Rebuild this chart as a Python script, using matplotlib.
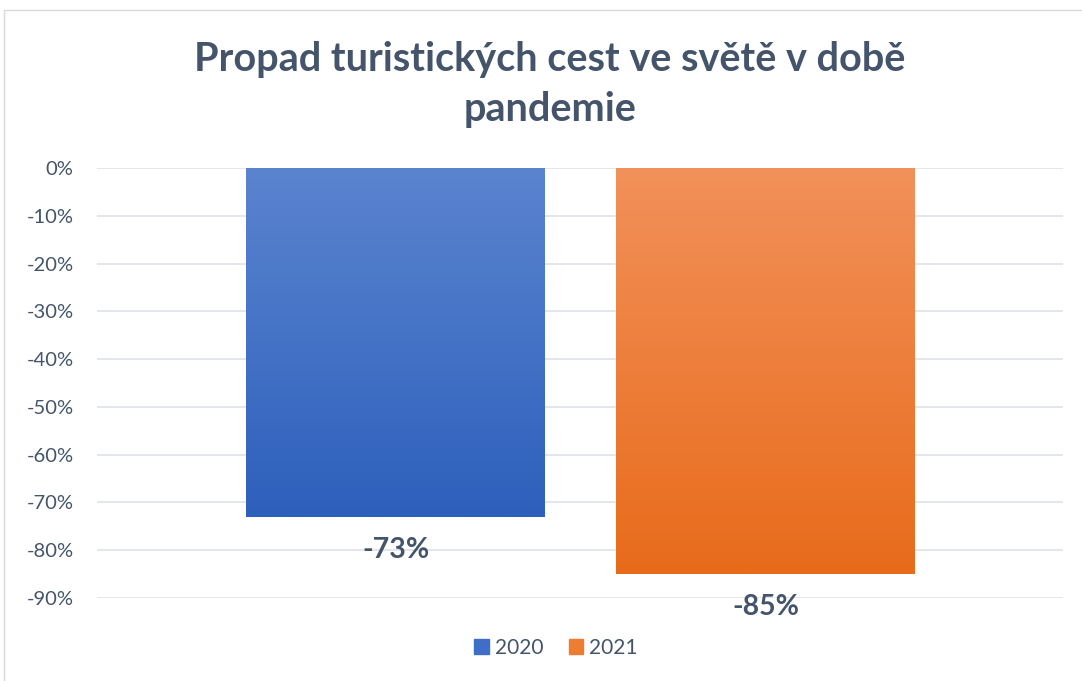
import numpy as np
import matplotlib.pyplot as plt
from matplotlib.patches import Rectangle
from matplotlib.colors import LinearSegmentedColormap

# data
series = ["2020", "2021"]
values = [-0.73, -0.85]
labels = ["-73%", "-85%"]
ticks = [0, -0.1, -0.2, -0.3, -0.4, -0.5, -0.6, -0.7, -0.8, -0.9]

# gradient colours (top -> bottom)
grads = [("#5B84CF", "#2D60BC"), ("#F2915A", "#E86B1B")]
solid = ["#3F6EC6", "#ED7D31"]

text_col = "#44546A"
plt.rcParams['font.family'] = ['Lato', 'DejaVu Sans']

fig = plt.figure(figsize=(10.82, 6.81), dpi=100)
ax = fig.add_axes([97 / 1082, 1 - 598 / 681, (1063 - 97) / 1082, (598 - 168) / 681])

# frame around the chart
fig.patches.append(Rectangle((4 / 1082, -0.1), 1.2, 1.1 - 10 / 681, transform=fig.transFigure,
                             fill=False, edgecolor="#D9D9D9", linewidth=1.0))

width = 0.808
x = np.arange(len(series))
for i, v in enumerate(values):
    cmap = LinearSegmentedColormap.from_list("g%d" % i, grads[i])
    grad = np.linspace(0, 1, 256).reshape(-1, 1)
    ax.imshow(grad, cmap=cmap, aspect='auto', extent=(x[i] - width / 2, x[i] + width / 2, v, 0),
              zorder=3, interpolation='bilinear')
    ax.annotate(labels[i], (x[i], v), xytext=(0, -24), textcoords='offset points',
                ha='center', va='center', fontsize=20.5, fontweight='bold', color=text_col,
                annotation_clip=False)

ax.set_xlim(-0.807, 1.804)
ax.set_ylim(-0.9, 0)
ax.set_yticks(ticks)
ax.set_yticklabels(["%d%%" % round(t * 100) for t in ticks])
ax.set_xticks([])
ax.tick_params(axis='y', length=0, labelsize=14.5, labelcolor=text_col, pad=17)
ax.grid(axis='y', color="#E1E4E9", linewidth=1.3, zorder=0)
ax.set_axisbelow(True)
for s in ax.spines.values():
    s.set_visible(False)

fig.text(0.508, 1 - 60 / 681, "Propad turistických cest ve světě v době", ha='center', va='center',
         fontsize=28.5, fontweight='bold', color=text_col)
fig.text(0.508, 1 - 109 / 681, "pandemie", ha='center', va='center',
         fontsize=28.5, fontweight='bold', color=text_col)

handles = [Rectangle((0, 0), 1, 1, color=c) for c in solid]
fig.legend(handles, series, loc='center', bbox_to_anchor=(556 / 1082, 1 - 648 / 681), ncol=2,
           frameon=False, fontsize=15, labelcolor=text_col, handlelength=0.7, handleheight=0.7,
           handletextpad=0.3, columnspacing=1.2)

fig.savefig("out.png", dpi=100)
